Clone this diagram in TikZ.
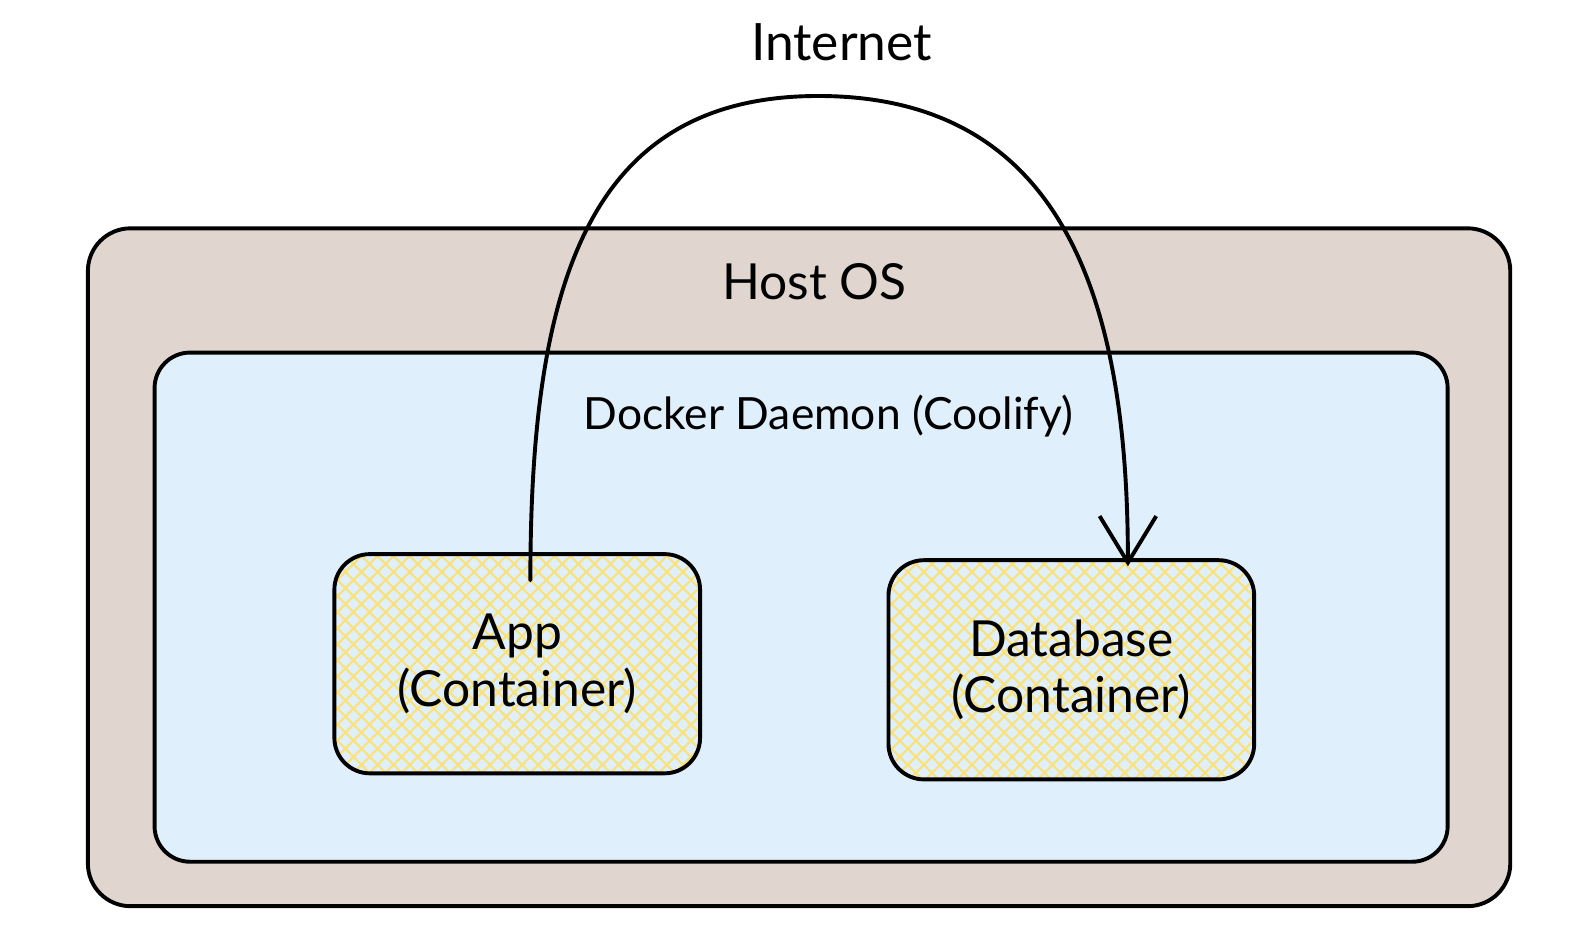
\documentclass[tikz,border=0pt]{standalone}
\usepackage{fontspec}
\setmainfont{Lato}
\usetikzlibrary{positioning,arrows.meta,patterns.meta}

\definecolor{hostfill}{RGB}{224,214,207}
\definecolor{dockerfill}{RGB}{224,239,252}
\definecolor{hatchcol}{RGB}{250,225,120}

\begin{document}
\begin{tikzpicture}[
  frame/.style={draw, line width=1.1pt, rounded corners=12pt},
  hostbox/.style={frame, fill=hostfill, minimum width=14.08cm, minimum height=6.71cm},
  dockerbox/.style={frame, fill=dockerfill, rounded corners=10pt,
              minimum width=12.80cm, minimum height=5.04cm},
  container/.style={frame, rounded corners=10pt, align=center,
              font=\fontsize{14}{16}\selectfont,
              minimum width=3.62cm, minimum height=2.17cm,
              preaction={fill=dockerfill},
              preaction={pattern={Lines[angle=45,distance=3.2pt,line width=0.6pt]}, pattern color=hatchcol},
              pattern={Lines[angle=-45,distance=3.2pt,line width=0.6pt]}, pattern color=hatchcol},
  title/.style={font=\fontsize{14.5}{17}\selectfont},
  flow/.style={-{Straight Barb[length=4.6mm, width=5.6mm]}, line width=1.1pt, line cap=round}
]
\useasboundingbox (0,0) rectangle (15.68,-9.40);
% nested boxes
\node[hostbox] (host) at (7.91,-5.615) {};
\node[dockerbox] (docker) at (7.93,-6.01) {};
\node[container] (app) at (5.12,-6.57) {App\\(Container)};
\node[container] (db) at (10.605,-6.63) {Database\\(Container)};
% titles
\node[title, font=\fontsize{14}{17}\selectfont, below=0.24 of host.north, xshift=0.15cm] (hostlbl) {Host OS};
\node[title, font=\fontsize{12.5}{15}\selectfont, below=0.32 of docker.north, xshift=0.27cm] (dockerlbl) {Docker Daemon (Coolify)};
\node[title] (internet) at (8.33,-0.42) {Internet};
\coordinate (peak) at (8.10,-0.95);
% route out to the internet and back
\draw[flow] ([xshift=0.13cm,yshift=-0.27cm]app.north)
   .. controls +(0,2.9) and +(-2.3,0) .. (peak)
   .. controls +(2.5,0) and +(0,2.5) .. ([xshift=0.56cm,yshift=-0.08cm]db.north);
\end{tikzpicture}
\end{document}
